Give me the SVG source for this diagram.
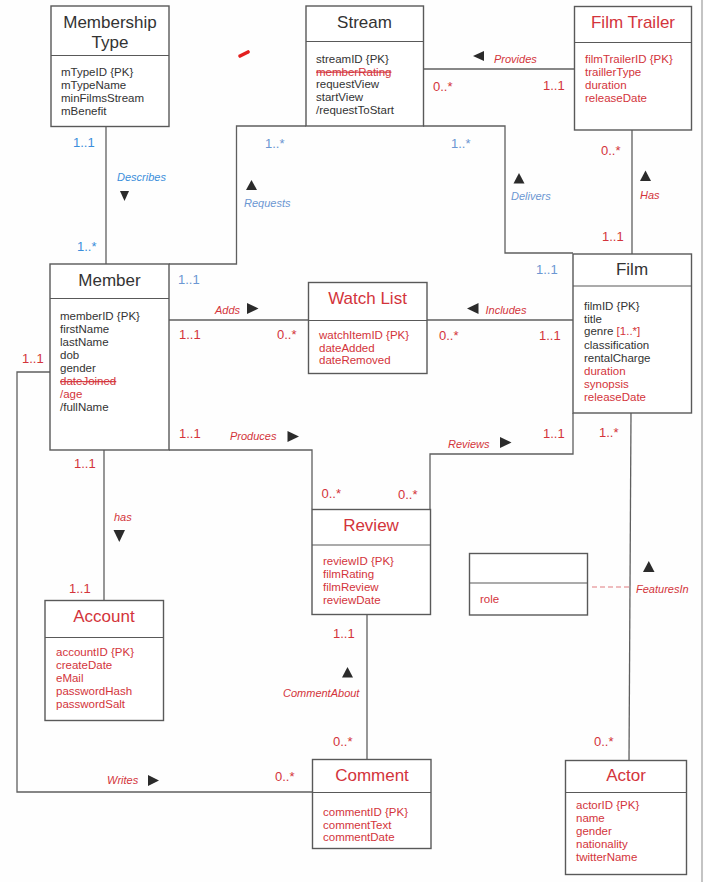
<svg xmlns="http://www.w3.org/2000/svg" width="704" height="882" viewBox="0 0 704 882">
<style>
.box{fill:#ffffff;stroke:#595959;stroke-width:1.4}
.div{stroke:#595959;stroke-width:1.2;fill:none}
.ln{stroke:#5f5f5f;stroke-width:1.3;fill:none}
.t{font-family:"Liberation Sans",Arial,sans-serif;font-size:17px;text-anchor:middle;fill:#333333}
.tr{fill:#d3343b}
.a{font-family:"Liberation Sans",Arial,sans-serif;font-size:11.5px;fill:#333333}
.r{fill:#d3343b}
.m{font-family:"Liberation Sans",Arial,sans-serif;font-size:13px;fill:#d3343b}
.mb{fill:#3b8edb}
.mm{fill:#6c97d2}
.lb{font-family:"Liberation Sans",Arial,sans-serif;font-size:11px;font-style:italic;fill:#d3343b}
.tri{fill:#2b2b2b}
.strike{text-decoration:line-through}
</style>
<rect x="0" y="0" width="704" height="882" fill="#fefefe"/>
<line x1="702" y1="0" x2="702" y2="882" stroke="#8a8a8a" stroke-width="1"/>
<path d="M240,56 L248,52" stroke="#e3201f" stroke-width="3.6" stroke-linecap="round" fill="none"/>

<g id="connectors">
  <!-- Describes -->
  <line class="ln" x1="106" y1="126" x2="106" y2="264"/>
  <!-- Requests -->
  <polyline class="ln" points="169,264 236.5,264 236.5,126 306,126"/>
  <!-- Delivers -->
  <polyline class="ln" points="423,126 505,126 505,253 573,253"/>
  <!-- Provides -->
  <line class="ln" x1="423" y1="69" x2="574" y2="69"/>
  <!-- Has -->
  <line class="ln" x1="632" y1="130" x2="632" y2="254"/>
  <!-- Adds -->
  <line class="ln" x1="169" y1="320" x2="308" y2="320"/>
  <!-- Includes -->
  <line class="ln" x1="427" y1="320" x2="573" y2="320"/>
  <!-- Produces -->
  <polyline class="ln" points="169,450 312,450 312,509"/>
  <!-- Reviews -->
  <polyline class="ln" points="573,413 573,454 430,454 430,509"/>
  <!-- has -->
  <line class="ln" x1="104" y1="450" x2="104" y2="600"/>
  <!-- Writes -->
  <polyline class="ln" points="50,372 17,372 17,792 313,792"/>
  <!-- CommentAbout -->
  <line class="ln" x1="367" y1="614" x2="367" y2="759"/>
  <!-- FeaturesIn -->
  <line class="ln" x1="631" y1="413" x2="629" y2="760"/>
  <line x1="592" y1="587" x2="629" y2="587" stroke="#e07a7e" stroke-width="1" stroke-dasharray="5,3"/>

  <!-- labels -->
  <text class="m mb" x="73" y="146.5">1..1</text>
  <text class="m mb" x="77" y="251">1..*</text>
  <text class="lb" x="117" y="181" style="fill:#3b8edb">Describes</text>
  <polygon class="tri" points="120,191 129,191 124.5,201"/>

  <text class="m mm" x="265" y="148">1..*</text>
  <polygon class="tri" points="246,190 257,190 251.5,180"/>
  <text class="lb" x="244" y="207" style="fill:#6c97d2">Requests</text>
  <text class="m mm" x="178" y="284">1..1</text>

  <text class="m mm" x="451" y="148">1..*</text>
  <polygon class="tri" points="513.5,183.5 524.5,183.5 519,173"/>
  <text class="lb" x="511" y="200" style="fill:#6c97d2">Delivers</text>
  <text class="m mm" x="536" y="274">1..1</text>

  <polygon class="tri" points="473,56 484,51 484,61"/>
  <text class="lb" x="494" y="62.5">Provides</text>
  <text class="m" x="433" y="91">0..*</text>
  <text class="m" x="543" y="90">1..1</text>

  <text class="m" x="601" y="155">0..*</text>
  <polygon class="tri" points="640,181 651,181 645.5,170.5"/>
  <text class="lb" x="640" y="199">Has</text>
  <text class="m" x="602" y="241">1..1</text>

  <text class="lb" x="215" y="313.5">Adds</text>
  <polygon class="tri" points="247,303 258.5,308.5 247,314"/>
  <text class="m" x="179" y="339">1..1</text>
  <text class="m" x="277" y="339">0..*</text>

  <polygon class="tri" points="467,308.5 478.5,303 478.5,314"/>
  <text class="lb" x="485.5" y="313.5">Includes</text>
  <text class="m" x="439" y="340">0..*</text>
  <text class="m" x="539" y="340">1..1</text>

  <text class="m" x="179" y="438">1..1</text>
  <text class="lb" x="230" y="440">Produces</text>
  <polygon class="tri" points="287.5,431 299,436.5 287.5,442"/>
  <text class="m" x="321.5" y="498">0..*</text>

  <text class="lb" x="448" y="447.5">Reviews</text>
  <polygon class="tri" points="500,437 511.5,442.5 500,448"/>
  <text class="m" x="543" y="437.5">1..1</text>
  <text class="m" x="398" y="499">0..*</text>

  <text class="m" x="599" y="437">1..*</text>
  <polygon class="tri" points="643,572 654.5,572 648.8,561"/>
  <text class="lb" x="636" y="593">FeaturesIn</text>
  <text class="m" x="594" y="746">0..*</text>

  <text class="m" x="74" y="468">1..1</text>
  <text class="lb" x="114" y="521">has</text>
  <polygon class="tri" points="113.5,530 125,530 119.3,542"/>
  <text class="m" x="69" y="593">1..1</text>

  <text class="m" x="22" y="363">1..1</text>
  <text class="lb" x="107" y="784">Writes</text>
  <polygon class="tri" points="148,775 159,780.5 148,786"/>
  <text class="m" x="275" y="781">0..*</text>

  <text class="m" x="333" y="637.5">1..1</text>
  <polygon class="tri" points="342,677.5 353,677.5 347.5,667"/>
  <text class="lb" x="283" y="697">CommentAbout</text>
  <text class="m" x="333" y="745.5">0..*</text>
</g>

<g id="membership-type">
  <rect class="box" x="51" y="6" width="118" height="120.5"/>
  <line class="div" x1="51" y1="55.5" x2="169" y2="55.5"/>
  <text class="t" x="110" y="28">Membership</text>
  <text class="t" x="110" y="48">Type</text>
  <text class="a" x="61" y="76">mTypeID {PK}</text>
  <text class="a" x="61" y="89">mTypeName</text>
  <text class="a" x="61" y="102">minFilmsStream</text>
  <text class="a" x="61" y="115">mBenefit</text>
</g>

<g id="stream">
  <rect class="box" x="306" y="6" width="117.5" height="120"/>
  <line class="div" x1="306" y1="41.5" x2="423.5" y2="41.5"/>
  <text class="t" x="364.5" y="28">Stream</text>
  <text class="a" x="316" y="63">streamID {PK}</text>
  <text class="a r strike" x="316" y="75.5" text-decoration="line-through">memberRating</text>
  <text class="a" x="316" y="88">requestView</text>
  <text class="a" x="316" y="101">startView</text>
  <text class="a" x="316" y="114">/requestToStart</text>
</g>

<g id="film-trailer">
  <rect class="box" x="574.5" y="6.5" width="117" height="123.5"/>
  <line class="div" x1="574.5" y1="42.5" x2="691.5" y2="42.5"/>
  <text class="t tr" x="633" y="28">Film Trailer</text>
  <text class="a r" x="585" y="63">filmTrailerID {PK}</text>
  <text class="a r" x="585" y="75.5">traillerType</text>
  <text class="a r" x="585" y="88.5">duration</text>
  <text class="a r" x="585" y="101.5">releaseDate</text>
</g>

<g id="member">
  <rect class="box" x="50" y="264" width="119" height="186"/>
  <line class="div" x1="50" y1="298.5" x2="169" y2="298.5"/>
  <text class="t" x="109.5" y="286">Member</text>
  <text class="a" x="60" y="320">memberID {PK}</text>
  <text class="a" x="60" y="333">firstName</text>
  <text class="a" x="60" y="346">lastName</text>
  <text class="a" x="60" y="359">dob</text>
  <text class="a" x="60" y="372">gender</text>
  <text class="a r strike" x="60" y="385" text-decoration="line-through">dateJoined</text>
  <text class="a r" x="60" y="398">/age</text>
  <text class="a" x="60" y="411">/fullName</text>
</g>

<g id="watch-list">
  <rect class="box" x="308.5" y="282.5" width="118.5" height="91"/>
  <line class="div" x1="308.5" y1="320.5" x2="427" y2="320.5"/>
  <text class="t tr" x="367.5" y="304">Watch List</text>
  <text class="a r" x="319" y="339">watchItemID {PK}</text>
  <text class="a r" x="319" y="351.5">dateAdded</text>
  <text class="a r" x="319" y="364">dateRemoved</text>
</g>

<g id="film">
  <rect class="box" x="573" y="254" width="118.5" height="159"/>
  <line class="div" x1="573" y1="286" x2="691.5" y2="286"/>
  <text class="t" x="632" y="275">Film</text>
  <text class="a" x="584" y="310">filmID {PK}</text>
  <text class="a" x="584" y="322.5">title</text>
  <text class="a" x="584" y="335">genre <tspan class="r">[1..*]</tspan></text>
  <text class="a" x="584" y="348.5">classification</text>
  <text class="a" x="584" y="361.5">rentalCharge</text>
  <text class="a r" x="584" y="375">duration</text>
  <text class="a r" x="584" y="388">synopsis</text>
  <text class="a r" x="584" y="401">releaseDate</text>
</g>

<g id="review">
  <rect class="box" x="312" y="509.5" width="118.5" height="105"/>
  <line class="div" x1="312" y1="545" x2="430.5" y2="545"/>
  <text class="t tr" x="371" y="531">Review</text>
  <text class="a r" x="323" y="565">reviewID {PK}</text>
  <text class="a r" x="323" y="578">filmRating</text>
  <text class="a r" x="323" y="591">filmReview</text>
  <text class="a r" x="323" y="604">reviewDate</text>
</g>

<g id="account">
  <rect class="box" x="45" y="600.5" width="118.5" height="120"/>
  <line class="div" x1="45" y1="637.5" x2="163.5" y2="637.5"/>
  <text class="t tr" x="104" y="622">Account</text>
  <text class="a r" x="56" y="656">accountID {PK}</text>
  <text class="a r" x="56" y="669">createDate</text>
  <text class="a r" x="56" y="682">eMail</text>
  <text class="a r" x="56" y="695">passwordHash</text>
  <text class="a r" x="56" y="708">passwordSalt</text>
</g>

<g id="comment">
  <rect class="box" x="312.5" y="759.5" width="118.5" height="89"/>
  <line class="div" x1="312.5" y1="792.5" x2="431" y2="792.5"/>
  <text class="t tr" x="372" y="781">Comment</text>
  <text class="a r" x="323" y="816">commentID {PK}</text>
  <text class="a r" x="323" y="828.5">commentText</text>
  <text class="a r" x="323" y="841">commentDate</text>
</g>

<g id="actor">
  <rect class="box" x="565.5" y="760.5" width="121" height="114"/>
  <line class="div" x1="565.5" y1="792.5" x2="686.5" y2="792.5"/>
  <text class="t tr" x="626" y="781">Actor</text>
  <text class="a r" x="576" y="809">actorID {PK}</text>
  <text class="a r" x="576" y="822">name</text>
  <text class="a r" x="576" y="835">gender</text>
  <text class="a r" x="576" y="848">nationality</text>
  <text class="a r" x="576" y="861">twitterName</text>
</g>

<g id="features-in-class">
  <rect class="box" x="469.5" y="553.5" width="118" height="61.5"/>
  <line class="div" x1="469.5" y1="583" x2="587.5" y2="583"/>
  <text class="a r" x="480" y="603">role</text>
</g>
</svg>
